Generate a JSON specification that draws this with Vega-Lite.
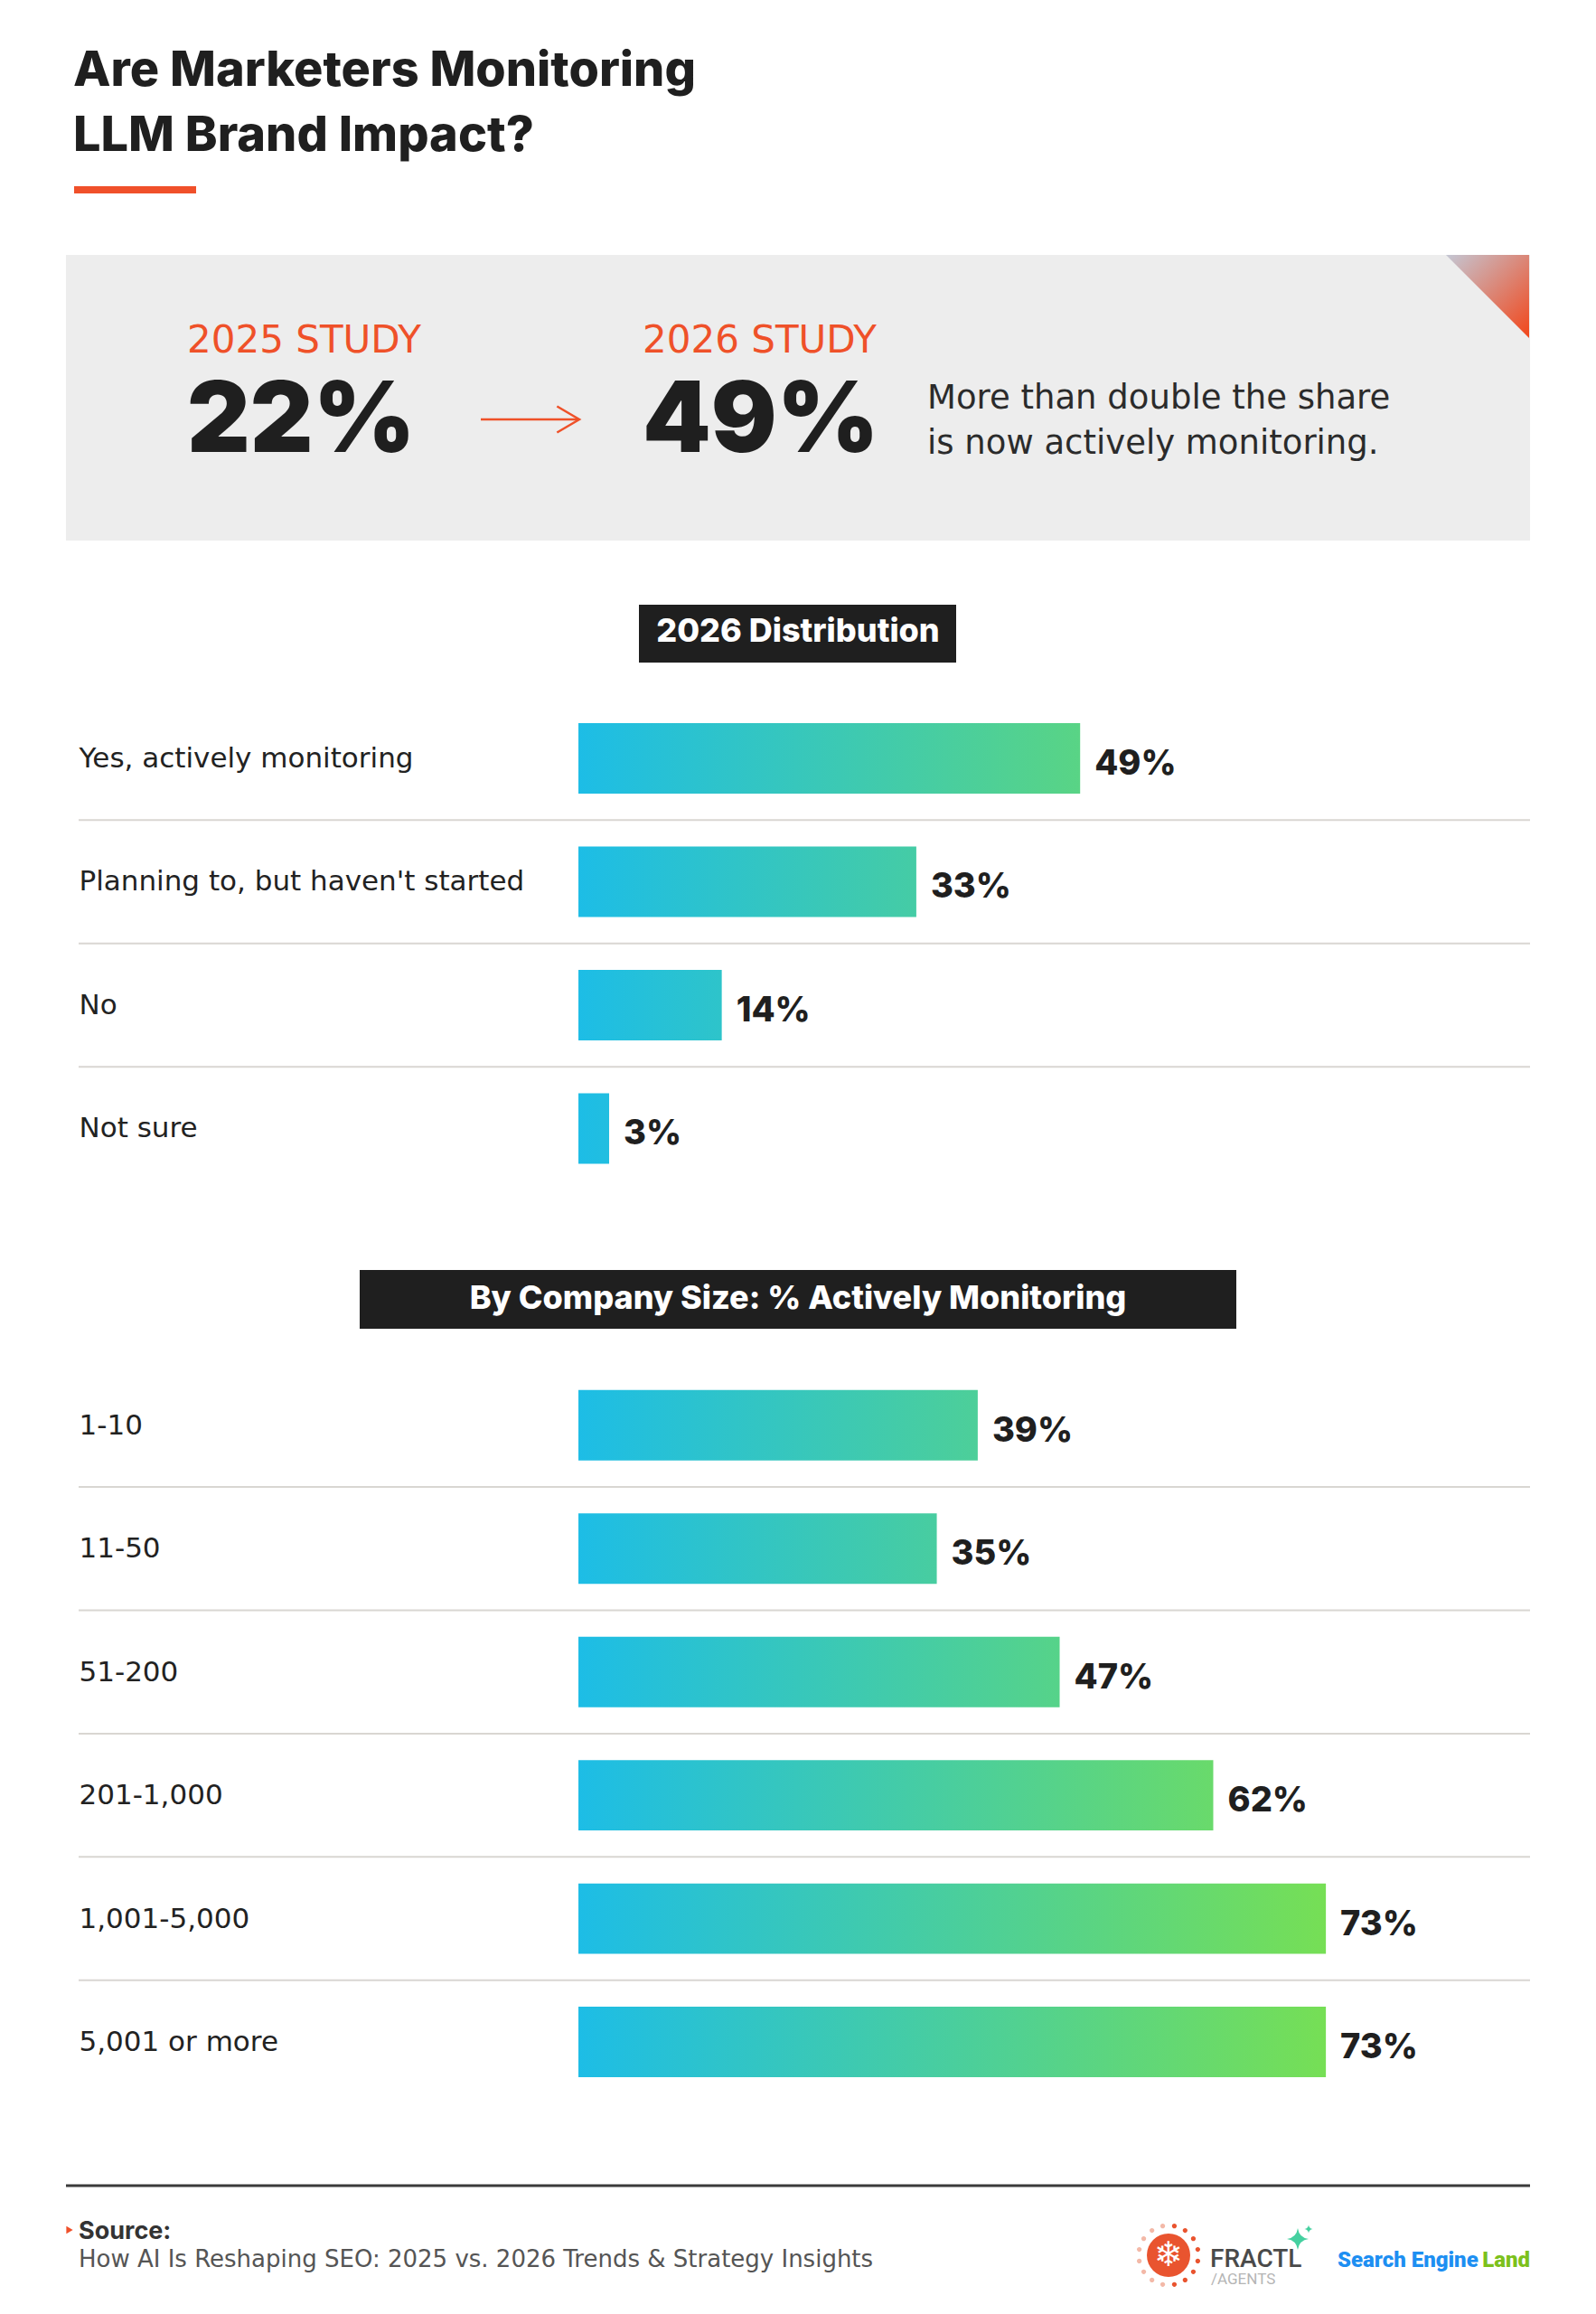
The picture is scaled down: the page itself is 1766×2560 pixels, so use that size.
{
  "$schema": "https://vega.github.io/schema/vega-lite/v6.json",
  "width": 1766,
  "height": 2560,
  "autosize": {"type": "fit", "contains": "padding"},
  "padding": 0,
  "background": "#ffffff",
  "config": {"view": {"stroke": null}, "font": "Inter"},
  "data": {"values": [{}]},
  "resolve": {"scale": {"x": "independent", "y": "independent"}},
  "layer": [
    {
      "mark": {"type": "text", "text": ["Are Marketers Monitoring", "LLM Brand Impact?"], "align": "left", "baseline": "alphabetic", "font": "Inter", "fontSize": 54, "fontWeight": 800, "lineHeight": 72, "color": "#1f1f1f"},
      "encoding": {"x": {"value": 81}, "y": {"value": 95}}
    },
    {
      "mark": {"type": "rect", "fill": "#f0502a"},
      "encoding": {"x": {"value": 82}, "x2": {"value": 217}, "y": {"value": 206}, "y2": {"value": 214}}
    },
    {
      "mark": {"type": "rect", "fill": "#ededed"},
      "encoding": {"x": {"value": 73}, "x2": {"value": 1693}, "y": {"value": 282}, "y2": {"value": 598}}
    },
    {
      "mark": {"type": "point", "shape": "M -1 -1 L 1 -1 L 1 1 Z", "size": 8464, "filled": true, "opacity": 1, "strokeWidth": 0,
        "fill": {"gradient": "linear", "x1": 0, "y1": 0, "x2": 1, "y2": 1, "stops": [{"offset": 0, "color": "#c4c7d4"}, {"offset": 1, "color": "#f2461a"}]}},
      "encoding": {"x": {"value": 1646}, "y": {"value": 328}}
    },
    {
      "data": {"values": [{"study": "2025 STUDY", "share": 0.22}, {"study": "2026 STUDY", "share": 0.49}]},
      "encoding": {
        "x": {"field": "study", "type": "nominal", "scale": {"type": "point", "domain": ["2025 STUDY", "2026 STUDY"], "range": [207, 711], "padding": 0}, "axis": null}
      },
      "layer": [
        {
          "mark": {"type": "text", "align": "left", "baseline": "alphabetic", "font": "DejaVu Sans", "fontSize": 42, "fontWeight": 400, "color": "#ef5129"},
          "encoding": {"y": {"value": 390}, "text": {"field": "study", "type": "nominal"}}
        },
        {
          "mark": {"type": "text", "align": "left", "baseline": "alphabetic", "font": "Inter", "fontSize": 108, "fontWeight": 900, "color": "#1f1f1f"},
          "encoding": {"y": {"value": 500}, "text": {"field": "share", "type": "quantitative", "format": ".0%"}}
        }
      ]
    },
    {
      "mark": {"type": "rule", "stroke": "#ef5129", "strokeWidth": 2.5},
      "encoding": {"x": {"value": 532}, "x2": {"value": 640}, "y": {"value": 464}}
    },
    {
      "mark": {"type": "point", "shape": "M -1.7 -1 L 0 0 L -1.7 1", "size": 841, "filled": false, "stroke": "#ef5129", "strokeWidth": 2.5, "opacity": 1},
      "encoding": {"x": {"value": 641}, "y": {"value": 464}}
    },
    {
      "mark": {"type": "text", "text": ["More than double the share", "is now actively monitoring."], "align": "left", "baseline": "alphabetic", "font": "DejaVu Sans", "fontSize": 37, "lineHeight": 50, "color": "#2b2b2b"},
      "encoding": {"x": {"value": 1026}, "y": {"value": 452}}
    },
    {
      "mark": {"type": "rect", "fill": "#1f1f1f"},
      "encoding": {"x": {"value": 707}, "x2": {"value": 1058}, "y": {"value": 669}, "y2": {"value": 733}}
    },
    {
      "mark": {"type": "text", "text": "2026 Distribution", "align": "center", "baseline": "alphabetic", "font": "Inter", "fontSize": 36, "fontWeight": 800, "color": "#ffffff"},
      "encoding": {"x": {"value": 883}, "y": {"value": 710}}
    },
    {
      "data": {"values": [
        {"answer": "Yes, actively monitoring", "share": 0.49},
        {"answer": "Planning to, but haven't started", "share": 0.33},
        {"answer": "No", "share": 0.14},
        {"answer": "Not sure", "share": 0.03}
      ]},
      "encoding": {
        "y": {
          "field": "answer", "type": "nominal", "sort": null,
          "scale": {"domain": ["Yes, actively monitoring", "Planning to, but haven't started", "No", "Not sure"], "range": [770.7, 1316.7], "paddingInner": 0.429, "paddingOuter": 0.2145},
          "axis": {"orient": "left", "offset": -87, "title": null, "domain": false, "ticks": false, "tickSize": 0, "grid": false, "labelPadding": 0, "labelAlign": "left", "labelBaseline": "alphabetic", "labelOffset": 10, "labelFont": "DejaVu Sans", "labelFontSize": 31, "labelColor": "#222222", "labelLimit": 0}
        }
      },
      "layer": [
        {
          "transform": [{"filter": "datum.answer !== 'Yes, actively monitoring'"}],
          "mark": {"type": "rule", "yOffset": -68.25, "stroke": "#d9d6d2", "strokeWidth": 2},
          "encoding": {"x": {"value": 87}, "x2": {"value": 1693}}
        },
        {
          "mark": {"type": "bar"},
          "encoding": {
            "x": {"field": "share", "type": "quantitative", "scale": {"domain": [-0.5649, 0.9938], "nice": false, "zero": false}, "axis": null},
            "fill": {
              "condition": [
                {"test": "datum.share == 0.49", "value": {"gradient": "linear", "x1": 0, "x2": 1, "y1": 0, "y2": 0, "stops": [{"offset": 0, "color": "#1dbde6"}, {"offset": 1, "color": "#59d485"}]}},
                {"test": "datum.share == 0.33", "value": {"gradient": "linear", "x1": 0, "x2": 1, "y1": 0, "y2": 0, "stops": [{"offset": 0, "color": "#1dbde6"}, {"offset": 1, "color": "#45cca5"}]}},
                {"test": "datum.share == 0.14", "value": {"gradient": "linear", "x1": 0, "x2": 1, "y1": 0, "y2": 0, "stops": [{"offset": 0, "color": "#1dbde6"}, {"offset": 1, "color": "#2ec4ca"}]}}
              ],
              "value": {"gradient": "linear", "x1": 0, "x2": 1, "y1": 0, "y2": 0, "stops": [{"offset": 0, "color": "#1dbde6"}, {"offset": 1, "color": "#21bee0"}]}
            }
          }
        },
        {
          "mark": {"type": "text", "align": "left", "baseline": "alphabetic", "dx": 16, "dy": 18, "font": "Inter", "fontSize": 38, "fontWeight": 800, "color": "#1f1f1f"},
          "encoding": {
            "x": {"field": "share", "type": "quantitative"},
            "text": {"field": "share", "type": "quantitative", "format": ".0%"}
          }
        }
      ]
    },
    {
      "mark": {"type": "rect", "fill": "#1f1f1f"},
      "encoding": {"x": {"value": 398}, "x2": {"value": 1368}, "y": {"value": 1405}, "y2": {"value": 1470}}
    },
    {
      "mark": {"type": "text", "text": "By Company Size: % Actively Monitoring", "align": "center", "baseline": "alphabetic", "font": "Inter", "fontSize": 36, "fontWeight": 800, "color": "#ffffff"},
      "encoding": {"x": {"value": 883}, "y": {"value": 1448}}
    },
    {
      "data": {"values": [
        {"size": "1-10", "share": 0.39},
        {"size": "11-50", "share": 0.35},
        {"size": "51-200", "share": 0.47},
        {"size": "201-1,000", "share": 0.62},
        {"size": "1,001-5,000", "share": 0.73},
        {"size": "5,001 or more", "share": 0.73}
      ]},
      "encoding": {
        "y": {
          "field": "size", "type": "nominal", "sort": null,
          "scale": {"domain": ["1-10", "11-50", "51-200", "201-1,000", "1,001-5,000", "5,001 or more"], "range": [1508.5, 2327.3], "paddingInner": 0.429, "paddingOuter": 0.2145},
          "axis": {"orient": "left", "offset": -87, "title": null, "domain": false, "ticks": false, "tickSize": 0, "grid": false, "labelPadding": 0, "labelAlign": "left", "labelBaseline": "alphabetic", "labelOffset": 10, "labelFont": "DejaVu Sans", "labelFontSize": 31, "labelColor": "#222222", "labelLimit": 0}
        }
      },
      "layer": [
        {
          "transform": [{"filter": "datum.size !== '1-10'"}],
          "mark": {"type": "rule", "yOffset": -68.25, "stroke": "#d9d6d2", "strokeWidth": 2},
          "encoding": {"x": {"value": 87}, "x2": {"value": 1693}}
        },
        {
          "mark": {"type": "bar"},
          "encoding": {
            "x": {"field": "share", "type": "quantitative", "scale": {"domain": [-0.5649, 0.9938], "nice": false, "zero": false}, "axis": null},
            "fill": {
              "condition": [
                {"test": "datum.share == 0.39", "value": {"gradient": "linear", "x1": 0, "x2": 1, "y1": 0, "y2": 0, "stops": [{"offset": 0, "color": "#1dbde6"}, {"offset": 1, "color": "#4dcf99"}]}},
                {"test": "datum.share == 0.35", "value": {"gradient": "linear", "x1": 0, "x2": 1, "y1": 0, "y2": 0, "stops": [{"offset": 0, "color": "#1dbde6"}, {"offset": 1, "color": "#48cda0"}]}},
                {"test": "datum.share == 0.47", "value": {"gradient": "linear", "x1": 0, "x2": 1, "y1": 0, "y2": 0, "stops": [{"offset": 0, "color": "#1dbde6"}, {"offset": 1, "color": "#56d389"}]}},
                {"test": "datum.share == 0.62", "value": {"gradient": "linear", "x1": 0, "x2": 1, "y1": 0, "y2": 0, "stops": [{"offset": 0, "color": "#1dbde6"}, {"offset": 1, "color": "#69da6b"}]}}
              ],
              "value": {"gradient": "linear", "x1": 0, "x2": 1, "y1": 0, "y2": 0, "stops": [{"offset": 0, "color": "#1dbde6"}, {"offset": 1, "color": "#76df55"}]}
            }
          }
        },
        {
          "mark": {"type": "text", "align": "left", "baseline": "alphabetic", "dx": 16, "dy": 18, "font": "Inter", "fontSize": 38, "fontWeight": 800, "color": "#1f1f1f"},
          "encoding": {
            "x": {"field": "share", "type": "quantitative"},
            "text": {"field": "share", "type": "quantitative", "format": ".0%"}
          }
        }
      ]
    },
    {
      "mark": {"type": "rule", "stroke": "#3a3a3a", "strokeWidth": 3},
      "encoding": {"x": {"value": 73}, "x2": {"value": 1693}, "y": {"value": 2418}}
    },
    {
      "mark": {"type": "point", "shape": "triangle-right", "size": 70, "filled": true, "fill": "#f0502a", "opacity": 1, "strokeWidth": 0},
      "encoding": {"x": {"value": 77}, "y": {"value": 2467}}
    },
    {
      "mark": {"type": "text", "text": "Source:", "align": "left", "baseline": "alphabetic", "font": "Inter", "fontSize": 27, "fontWeight": 700, "color": "#333333"},
      "encoding": {"x": {"value": 87}, "y": {"value": 2477}}
    },
    {
      "mark": {"type": "text", "text": "How AI Is Reshaping SEO: 2025 vs. 2026 Trends & Strategy Insights", "align": "left", "baseline": "alphabetic", "font": "DejaVu Sans", "fontSize": 26, "color": "#555555"},
      "encoding": {"x": {"value": 87}, "y": {"value": 2508}}
    },
    {
      "mark": {"type": "point", "size": 4356, "filled": true, "opacity": 1, "strokeWidth": 0, "fill": "#f3b9a8",
        "shape": "M -0.2751 -0.9808 a 0.08 0.08 0 1 0 0.16 0 a 0.08 0.08 0 1 0 -0.16 0 Z M -0.6356 -0.8315 a 0.08 0.08 0 1 0 0.16 0 a 0.08 0.08 0 1 0 -0.16 0 Z M -0.9115 -0.5556 a 0.08 0.08 0 1 0 0.16 0 a 0.08 0.08 0 1 0 -0.16 0 Z M -1.0608 -0.1951 a 0.08 0.08 0 1 0 0.16 0 a 0.08 0.08 0 1 0 -0.16 0 Z M -1.0608 0.1951 a 0.08 0.08 0 1 0 0.16 0 a 0.08 0.08 0 1 0 -0.16 0 Z M -0.9115 0.5556 a 0.08 0.08 0 1 0 0.16 0 a 0.08 0.08 0 1 0 -0.16 0 Z M -0.6356 0.8315 a 0.08 0.08 0 1 0 0.16 0 a 0.08 0.08 0 1 0 -0.16 0 Z M -0.2751 0.9808 a 0.08 0.08 0 1 0 0.16 0 a 0.08 0.08 0 1 0 -0.16 0 Z"},
      "encoding": {"x": {"value": 1293}, "y": {"value": 2495}}
    },
    {
      "mark": {"type": "point", "size": 4356, "filled": true, "opacity": 1, "strokeWidth": 0, "fill": "#e9542f",
        "shape": "M 0.1151 -0.9808 a 0.08 0.08 0 1 0 0.16 0 a 0.08 0.08 0 1 0 -0.16 0 Z M 0.4756 -0.8315 a 0.08 0.08 0 1 0 0.16 0 a 0.08 0.08 0 1 0 -0.16 0 Z M 0.7515 -0.5556 a 0.08 0.08 0 1 0 0.16 0 a 0.08 0.08 0 1 0 -0.16 0 Z M 0.9008 -0.1951 a 0.08 0.08 0 1 0 0.16 0 a 0.08 0.08 0 1 0 -0.16 0 Z M 0.9008 0.1951 a 0.08 0.08 0 1 0 0.16 0 a 0.08 0.08 0 1 0 -0.16 0 Z M 0.7515 0.5556 a 0.08 0.08 0 1 0 0.16 0 a 0.08 0.08 0 1 0 -0.16 0 Z M 0.4756 0.8315 a 0.08 0.08 0 1 0 0.16 0 a 0.08 0.08 0 1 0 -0.16 0 Z M 0.1151 0.9808 a 0.08 0.08 0 1 0 0.16 0 a 0.08 0.08 0 1 0 -0.16 0 Z"},
      "encoding": {"x": {"value": 1293}, "y": {"value": 2495}}
    },
    {
      "mark": {"type": "point", "shape": "circle", "size": 2304, "filled": true, "opacity": 1, "strokeWidth": 0, "fill": "#e9542f"},
      "encoding": {"x": {"value": 1293}, "y": {"value": 2495}}
    },
    {
      "mark": {"type": "text", "text": "❄", "align": "center", "baseline": "middle", "font": "DejaVu Sans", "fontSize": 38, "color": "#ffffff"},
      "encoding": {"x": {"value": 1293}, "y": {"value": 2496}}
    },
    {
      "mark": {"type": "text", "text": "FRACTL", "align": "left", "baseline": "alphabetic", "font": "Roboto", "fontSize": 28, "fontWeight": 500, "color": "#4a4a4a"},
      "encoding": {"x": {"value": 1339}, "y": {"value": 2508}}
    },
    {
      "mark": {"type": "text", "text": "/AGENTS", "align": "left", "baseline": "alphabetic", "font": "Roboto", "fontSize": 17, "color": "#b5b5b5"},
      "encoding": {"x": {"value": 1340}, "y": {"value": 2527}}
    },
    {
      "mark": {"type": "point", "shape": "M 0 -1 Q 0.12 -0.12 1 0 Q 0.12 0.12 0 1 Q -0.12 0.12 -1 0 Q -0.12 -0.12 0 -1 Z", "size": 576, "filled": true, "opacity": 1, "strokeWidth": 0, "fill": "#45d0a0"},
      "encoding": {"x": {"value": 1436}, "y": {"value": 2477}}
    },
    {
      "mark": {"type": "point", "shape": "M 0 -1 Q 0.12 -0.12 1 0 Q 0.12 0.12 0 1 Q -0.12 0.12 -1 0 Q -0.12 -0.12 0 -1 Z", "size": 81, "filled": true, "opacity": 1, "strokeWidth": 0, "fill": "#45d0a0"},
      "encoding": {"x": {"value": 1448}, "y": {"value": 2466}}
    },
    {
      "mark": {"type": "text", "text": "Search Engine", "align": "left", "baseline": "alphabetic", "font": "Roboto", "fontSize": 24, "fontWeight": 900, "color": "#1d8ff2"},
      "encoding": {"x": {"value": 1480}, "y": {"value": 2508}}
    },
    {
      "mark": {"type": "text", "text": "Land", "align": "right", "baseline": "alphabetic", "font": "Roboto", "fontSize": 24, "fontWeight": 900, "color": "#7cc11c"},
      "encoding": {"x": {"value": 1693}, "y": {"value": 2508}}
    }
  ]
}
